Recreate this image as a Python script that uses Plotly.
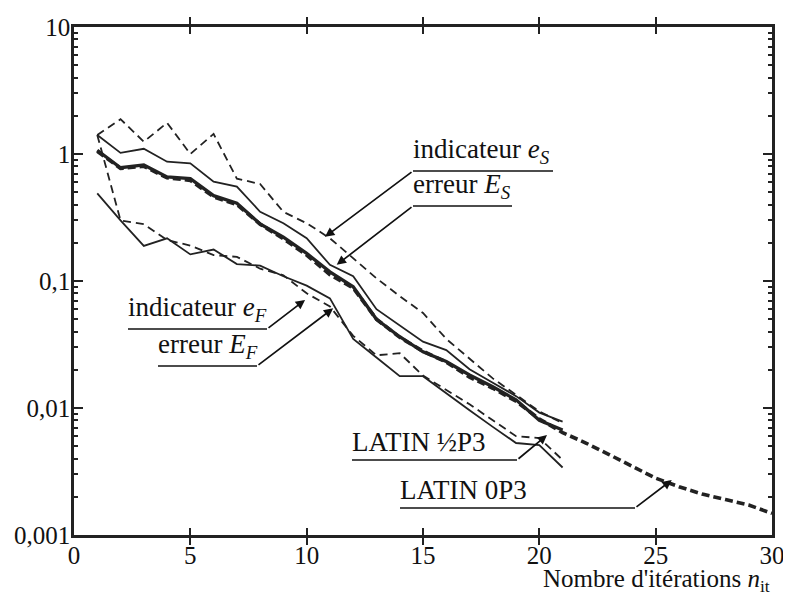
import math
import plotly.graph_objects as go

# ---------------- data ----------------
iter_half = list(range(1, 22))          # LATIN 1/2 P3 iterations 1..21
iter_zero = list(range(1, 31))          # LATIN 0P3 iterations 1..30

ind_eS_half = [1.41, 1.88, 1.25, 1.76, 1.00, 1.44, 0.64, 0.58, 0.35, 0.285, 0.217,
               0.151, 0.105, 0.076, 0.056, 0.035, 0.0246, 0.0171, 0.0127, 0.0094, 0.0076]
err_ES_half = [1.41, 1.02, 1.10, 0.87, 0.845, 0.605, 0.553, 0.351, 0.285, 0.217, 0.134,
               0.109, 0.060, 0.045, 0.0333, 0.0286, 0.0202, 0.0158, 0.0124, 0.0092, 0.0078]
ind_eF_half = [1.41, 0.30, 0.28, 0.21, 0.19, 0.16, 0.155, 0.125, 0.111, 0.080, 0.063,
               0.037, 0.026, 0.027, 0.018, 0.0139, 0.0107, 0.0080, 0.0060, 0.0058, 0.0039]
err_EF_half = [0.49, 0.30, 0.189, 0.217, 0.162, 0.177, 0.136, 0.132, 0.109, 0.092, 0.073,
               0.035, 0.025, 0.0178, 0.0178, 0.0130, 0.0096, 0.0071, 0.0053, 0.0051, 0.0034]
err_E_zero = [1.07, 0.78, 0.82, 0.66, 0.64, 0.47, 0.41, 0.281, 0.221, 0.165, 0.118,
              0.090, 0.050, 0.0364, 0.0277, 0.0232, 0.0182, 0.0147, 0.0116, 0.0080, 0.0067]
ind_e_zero = [1.05, 0.77, 0.80, 0.65, 0.62, 0.46, 0.40, 0.28, 0.215, 0.16, 0.112,
              0.088, 0.050, 0.036, 0.028, 0.023, 0.0175, 0.0143, 0.0113, 0.0082, 0.0064,
              0.0053, 0.0043, 0.0035, 0.0028, 0.0024, 0.0021, 0.0019, 0.00172, 0.00148]

x_tickvals = [0, 5, 10, 15, 20, 25, 30]
x_ticktext = ["0", "5", "10", "15", "20", "25", "30"]
y_tickvals = [0.001, 0.01, 0.1, 1, 10]
y_ticktext = ["0,001", "0,01", "0,1", "1", "10"]
y_minor_vals = [m * d for d in [0.001, 0.01, 0.1, 1] for m in range(2, 10)]

label_texts = ["indicateur <i>e</i><sub><i>S</i></sub>",
               "erreur <i>E</i><sub><i>S</i></sub>",
               "indicateur <i>e</i><sub><i>F</i></sub>",
               "erreur <i>E</i><sub><i>F</i></sub>",
               "LATIN ½P3",
               "LATIN 0P3"]
# arrow targets (data coordinates, on the curves)
arrow_x = [10.79, 11.29, 9.93, 11.14, 20.33, 25.69]
arrow_y = [0.223, 0.134, 0.071, 0.061, 0.00613, 0.00271]

# ---------------- layout geometry (screen pixels) ----------------
FONT = "Liberation Serif"
OFF = 8                      # page offset of the figure inside the browser
W, H = 783, 584
L, T = 66, 19
PW, PH = 698, 508
R, B = W - L - PW, H - T - PH

# underline: (x start, x end, y, tail x) in screen px
underlines = [(413, 553, 171, 413), (413, 512, 206, 413), (128, 267, 329, 267),
              (158, 257, 366, 257), (352, 517, 460, 517), (400, 635, 508, 635)]


def sx(xs):
    return (xs - OFF - L) / PW


def sy(ys):
    return (T + PH - (ys - OFF)) / PH


fig = go.Figure()
fig.add_trace(go.Scatter(x=iter_zero, y=ind_e_zero, mode="lines",
                         line=dict(color="#222", width=3.6, dash="8px,4px")))
fig.add_trace(go.Scatter(x=iter_half, y=err_E_zero, mode="lines",
                         line=dict(color="#222", width=3.3)))
fig.add_trace(go.Scatter(x=iter_half, y=ind_eS_half, mode="lines",
                         line=dict(color="#222", width=1.8, dash="8px,5px")))
fig.add_trace(go.Scatter(x=iter_half, y=err_ES_half, mode="lines",
                         line=dict(color="#222", width=1.8)))
fig.add_trace(go.Scatter(x=iter_half, y=ind_eF_half, mode="lines",
                         line=dict(color="#222", width=1.8, dash="8px,5px")))
fig.add_trace(go.Scatter(x=iter_half, y=err_EF_half, mode="lines",
                         line=dict(color="#222", width=1.8)))
# invisible trace so the minor-tick axis is drawn
fig.add_trace(go.Scatter(x=[None], y=[None], yaxis="y2", mode="lines", hoverinfo="skip"))

shapes, annotations = [], []
for text, (x0, x1, uy, tail), hx, hy in zip(label_texts, underlines, arrow_x, arrow_y):
    shapes.append(dict(type="line", xref="paper", yref="paper", x0=sx(x0), x1=sx(x1),
                       y0=sy(uy), y1=sy(uy), line=dict(color="#111", width=1.7)))
    annotations.append(dict(text=text, xref="paper", yref="paper", x=sx(x0 - 2), y=sy(uy - 1),
                            xanchor="left", yanchor="bottom", showarrow=False,
                            font=dict(family=FONT, size=27, color="#111")))
    hxp = OFF + L + hx / 30 * PW
    hyp = OFF + T + (1 - math.log10(hy)) / 4 * PH
    annotations.append(dict(text="", x=hx, y=math.log10(hy), xref="x", yref="y",
                            ax=tail - hxp, ay=uy - hyp, showarrow=True, arrowhead=2,
                            arrowsize=1.1, arrowwidth=1.7, arrowcolor="#111", standoff=0))

annotations.append(dict(text="Nombre d'itérations <i>n</i><sub>it</sub>", xref="paper",
                        yref="paper", x=1.0, y=sy(598), xanchor="right", yanchor="bottom",
                        showarrow=False, font=dict(family=FONT, size=25, color="#111")))

fig.update_layout(
    width=W, height=H, margin=dict(l=L, r=R, t=T, b=B, autoexpand=False),
    paper_bgcolor="white", plot_bgcolor="white", showlegend=False,
    font=dict(family=FONT, size=25, color="#111"),
    shapes=shapes, annotations=annotations,
    xaxis=dict(range=[0, 30], tickvals=x_tickvals, ticktext=x_ticktext, ticks="inside",
               ticklen=7, tickwidth=2, tickcolor="#222", showline=True, linewidth=2.5,
               linecolor="#222", mirror="allticks", showgrid=False, zeroline=False,
               automargin=False, ticklabelstandoff=-4,
               tickfont=dict(family=FONT, size=25, color="#111")),
    yaxis=dict(type="log", range=[-3, 1], tickvals=y_tickvals, ticktext=y_ticktext,
               ticks="inside", ticklen=9, tickwidth=2, tickcolor="#222", showline=True,
               linewidth=2.5, linecolor="#222", mirror="allticks", showgrid=False,
               zeroline=False, automargin=False, ticklabelstandoff=-4,
               tickfont=dict(family=FONT, size=25, color="#111")),
    yaxis2=dict(type="log", range=[-3, 1], overlaying="y", anchor="x", side="left",
                tickvals=y_minor_vals, ticks="inside", ticklen=4, tickwidth=2,
                tickcolor="#222", showticklabels=False, showline=False, mirror="ticks",
                showgrid=False, zeroline=False, automargin=False),
)

fig.write_html("out.html")
